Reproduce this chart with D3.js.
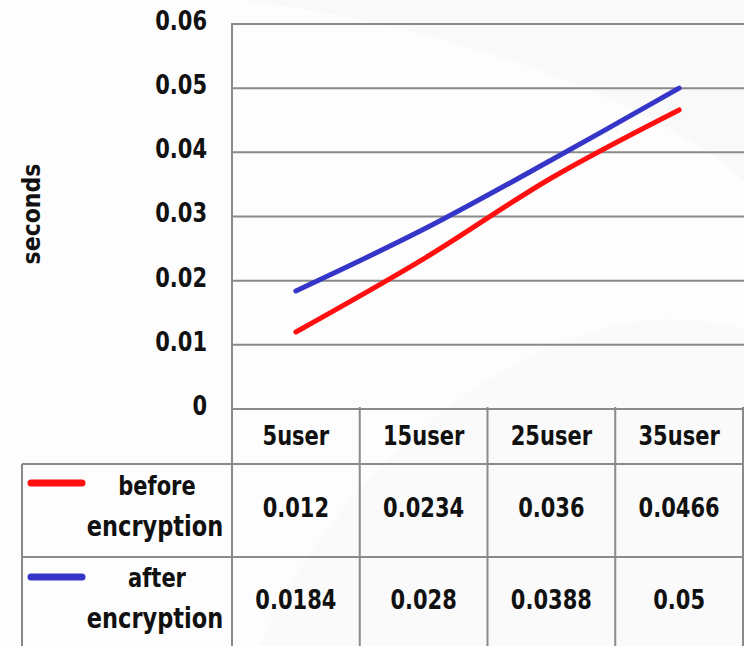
<!DOCTYPE html>
<html><head><meta charset="utf-8">
<script src="https://cdn.jsdelivr.net/npm/d3@7"></script>
<style>html,body{margin:0;padding:0;background:#fdfdfd;}svg{display:block;}</style>
</head><body>
<svg id="c" width="744" height="646"></svg>
<script>
const categories = ["5user", "15user", "25user", "35user"];
const beforeEnc = [0.012, 0.0234, 0.036, 0.0466];
const afterEnc = [0.0184, 0.028, 0.0388, 0.05];
const seriesNames = [["before", "encryption"], ["after", "encryption"]];
const seriesColors = ["#ff0f0f", "#3535c8"];
const yTicks = [0, 0.01, 0.02, 0.03, 0.04, 0.05, 0.06];
const yLabel = "seconds";

const svg = d3.select("#c");
const W = 744, H = 646;
const plotL = 232, plotR = 743, plotT = 24, plotB = 409;
const legL = 22, row1 = 464, row2 = 557;
const gridCol = "#8a8a8a";
const font = "'DejaVu Sans', sans-serif";

// faint background swooshes
svg.append("path").attr("d", "M240,0 C420,20 640,90 744,180 L744,0 Z").attr("fill", "#f6f6f6").attr("opacity", 0.5);
svg.append("path").attr("d", "M260,646 C330,470 560,270 744,330 L744,646 Z").attr("fill", "#f8f8f8").attr("opacity", 0.5);

const x = d3.scaleBand().domain(categories).range([plotL, plotR]);
const y = d3.scaleLinear().domain([0, 0.06]).range([plotB, plotT]);

// horizontal gridlines
svg.append("g").selectAll("line").data(yTicks).join("line")
  .attr("x1", plotL).attr("x2", W).attr("y1", d => y(d)).attr("y2", d => y(d))
  .attr("stroke", gridCol).attr("stroke-width", 2);

function stretchedText(g, tx, ty, txt, size, anchor) {
  return g.append("text").attr("transform", `translate(${tx},${ty}) scale(1,1.25)`)
    .attr("text-anchor", anchor || "middle").attr("dominant-baseline", "central")
    .attr("font-family", font).attr("font-weight", "bold").attr("font-size", size)
    .attr("fill", "#111").text(txt);
}
const tg = svg.append("g");
yTicks.forEach(t => stretchedText(tg, 207, y(t) - 3, d3.format("")(t), 21, "end"));

// y axis title
svg.append("text").attr("transform", "translate(31,214) rotate(-90) scale(1.05,1.2)")
  .attr("text-anchor", "middle").attr("dominant-baseline", "central")
  .attr("font-family", font).attr("font-weight", "bold").attr("font-size", 21)
  .attr("fill", "#111").text(yLabel);

// table lines
const lines = svg.append("g").attr("stroke", gridCol).attr("stroke-width", 2);
lines.append("line").attr("x1", plotL).attr("x2", plotL).attr("y1", plotT - 1).attr("y2", H);
lines.append("line").attr("x1", legL).attr("x2", legL).attr("y1", row1).attr("y2", H);
lines.append("line").attr("x1", legL).attr("x2", W).attr("y1", row1).attr("y2", row1);
lines.append("line").attr("x1", legL).attr("x2", W).attr("y1", row2).attr("y2", row2);
categories.forEach(c => {
  const xr = x(c) + x.bandwidth();
  lines.append("line").attr("x1", xr).attr("x2", xr).attr("y1", plotB - 2).attr("y2", H);
});

// header & values
const tb = svg.append("g");
categories.forEach((c, i) => {
  const cx = x(c) + x.bandwidth() / 2;
  stretchedText(tb, cx, 436, c, 21);
  stretchedText(tb, cx, 508, String(beforeEnc[i]), 21);
  stretchedText(tb, cx, 600, String(afterEnc[i]), 21);
});

// legend
const leg = svg.append("g");
[[483, 486, 526], [577, 578, 618]].forEach((p, i) => {
  leg.append("line").attr("x1", 31).attr("x2", 82).attr("y1", p[0]).attr("y2", p[0])
    .attr("stroke", seriesColors[i]).attr("stroke-width", 7).attr("stroke-linecap", "round");
  stretchedText(leg, 157, p[1], seriesNames[i][0], 21);
  stretchedText(leg, 155, p[2], seriesNames[i][1], 22.5);
});

// lines
const line = d3.line().x((d, i) => x(categories[i]) + x.bandwidth() / 2).y(d => y(d))
  .curve(d3.curveCatmullRom.alpha(0.5));
[beforeEnc, afterEnc].forEach((s, i) => {
  svg.append("path").datum(s).attr("d", line).attr("fill", "none")
    .attr("stroke", seriesColors[i]).attr("stroke-width", 5).attr("stroke-linecap", "round");
});
</script>
</body></html>
